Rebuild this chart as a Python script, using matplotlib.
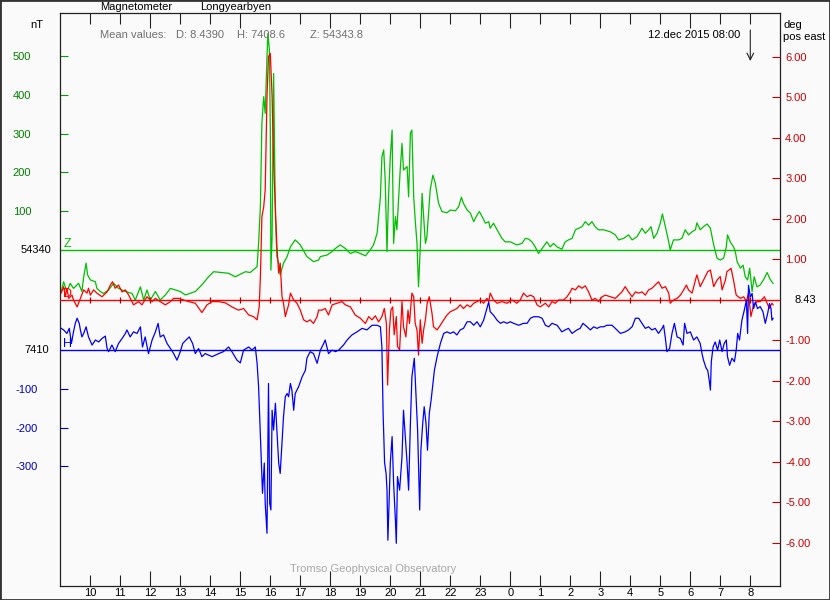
import matplotlib
matplotlib.use('Agg')
import matplotlib.pyplot as plt
from matplotlib.patches import Rectangle
from matplotlib.transforms import blended_transform_factory

plt.rcParams['font.family'] = ['Liberation Sans', 'DejaVu Sans']
plt.rcParams['font.size'] = 8

# time in hours from 09:00 (values past 24 are the next day)
t_z = [9.03, 9.11, 9.22, 9.33, 9.44, 9.61, 9.72, 9.78, 9.86, 9.91, 10.0, 10.17, 10.22, 10.33, 10.44,
       10.61, 10.78, 10.94, 11.17, 11.39, 11.5, 11.67, 11.78, 11.89, 12.0, 12.17, 12.33, 12.5, 12.67,
       13.0, 13.17, 13.5, 13.72, 13.94, 14.11, 14.61, 14.83, 15.17, 15.33, 15.56, 15.61, 15.67, 15.72,
       15.78, 15.83, 15.89, 15.92, 15.97, 16.0, 16.02, 16.06, 16.11, 16.17, 16.22, 16.28, 16.33, 16.44,
       16.56, 16.67, 16.83, 17.0, 17.22, 17.44, 17.61, 17.67, 17.89, 18.06, 18.17, 18.33, 18.5, 18.67,
       18.83, 19.0, 19.17, 19.33, 19.44, 19.56, 19.67, 19.72, 19.78, 19.83, 19.89, 19.94, 20.0, 20.06,
       20.11, 20.17, 20.22, 20.33, 20.39, 20.44, 20.56, 20.61, 20.67, 20.72, 20.78, 20.83, 20.89, 20.94,
       21.0, 21.06, 21.11, 21.17, 21.22, 21.33, 21.42, 21.5, 21.61, 21.72, 21.89, 22.0, 22.17, 22.28,
       22.37, 22.44, 22.56, 22.67, 22.78, 22.89, 22.97, 23.06, 23.17, 23.28, 23.33, 23.44, 23.56, 23.72,
       23.83, 24.0, 24.11, 24.22, 24.39, 24.5, 24.61, 24.72, 24.83, 24.94, 25.06, 25.22, 25.33, 25.44,
       25.56, 25.72, 25.83, 25.94, 26.06, 26.17, 26.28, 26.39, 26.5, 26.61, 26.72, 26.83, 26.94, 27.11,
       27.33, 27.5, 27.61, 27.78, 27.94, 28.06, 28.22, 28.39, 28.5, 28.61, 28.69, 28.78, 28.89, 29.0,
       29.07, 29.17, 29.28, 29.33, 29.44, 29.61, 29.72, 29.83, 29.94, 30.06, 30.17, 30.22, 30.33, 30.44,
       30.56, 30.67, 30.78, 30.89, 31.0, 31.11, 31.2, 31.24, 31.33, 31.44, 31.5, 31.56, 31.67, 31.76,
       31.83, 31.91, 31.98, 32.06, 32.13, 32.22, 32.33, 32.44, 32.56, 32.67, 32.76]
z_nt = [54232, 54258, 54233, 54254, 54241, 54254, 54233, 54271, 54306, 54276, 54263, 54258, 54241, 54233,
        54228, 54237, 54254, 54241, 54233, 54228, 54211, 54245, 54211, 54237, 54211, 54233, 54211, 54224,
        54241, 54233, 54224, 54233, 54250, 54271, 54284, 54280, 54271, 54284, 54282, 54297, 54358, 54452,
        54667, 54735, 54692, 54838, 54898, 54855, 54649, 54288, 54374, 54795, 54426, 54323, 54306, 54276,
        54306, 54323, 54348, 54366, 54353, 54323, 54310, 54314, 54323, 54327, 54336, 54344, 54353, 54344,
        54331, 54336, 54331, 54325, 54340, 54353, 54383, 54477, 54580, 54598, 54520, 54336, 54477, 54580,
        54649, 54357, 54426, 54392, 54546, 54615, 54546, 54555, 54477, 54641, 54649, 54477, 54417, 54357,
        54245, 54348, 54486, 54426, 54357, 54374, 54495, 54533, 54512, 54460, 54439, 54436, 54443, 54441,
        54452, 54476, 54460, 54443, 54435, 54413, 54430, 54439, 54426, 54409, 54413, 54396, 54409, 54392,
        54370, 54361, 54361, 54357, 54353, 54357, 54370, 54368, 54361, 54348, 54331, 54344, 54361, 54348,
        54357, 54348, 54342, 54361, 54366, 54370, 54392, 54396, 54400, 54413, 54404, 54413, 54400, 54392,
        54392, 54387, 54379, 54366, 54370, 54379, 54366, 54374, 54396, 54383, 54392, 54400, 54370, 54383,
        54409, 54433, 54400, 54361, 54340, 54366, 54366, 54370, 54392, 54379, 54387, 54392, 54410, 54392,
        54400, 54407, 54396, 54353, 54319, 54314, 54319, 54348, 54379, 54361, 54348, 54336, 54310, 54293,
        54301, 54271, 54263, 54293, 54233, 54271, 54245, 54250, 54263, 54282, 54263, 54254]

t_d = [9.03, 9.11, 9.17, 9.22, 9.28, 9.39, 9.44, 9.56, 9.67, 9.78, 9.89, 9.94, 10.0, 10.11, 10.22, 10.39,
       10.56, 10.67, 10.74, 10.83, 10.94, 11.06, 11.17, 11.28, 11.44, 11.61, 11.72, 11.89, 12.06, 12.17,
       12.33, 12.5, 12.67, 12.78, 12.94, 13.11, 13.28, 13.5, 13.72, 13.89, 14.06, 14.28, 14.5, 14.72,
       14.94, 15.11, 15.28, 15.44, 15.56, 15.63, 15.67, 15.72, 15.78, 15.83, 15.89, 15.94, 16.0, 16.06,
       16.11, 16.17, 16.22, 16.28, 16.33, 16.39, 16.44, 16.5, 16.56, 16.61, 16.67, 16.78, 16.89, 17.0,
       17.11, 17.22, 17.33, 17.44, 17.56, 17.61, 17.72, 17.83, 17.94, 18.06, 18.22, 18.39, 18.5, 18.67,
       18.83, 19.0, 19.17, 19.28, 19.39, 19.5, 19.61, 19.72, 19.8, 19.87, 19.91, 19.97, 20.02, 20.08,
       20.13, 20.2, 20.24, 20.31, 20.39, 20.44, 20.52, 20.59, 20.64, 20.72, 20.78, 20.83, 20.89, 20.94,
       21.0, 21.06, 21.11, 21.17, 21.23, 21.3, 21.39, 21.44, 21.56, 21.67, 21.78, 21.89, 22.0, 22.11,
       22.22, 22.33, 22.44, 22.56, 22.67, 22.78, 22.89, 23.0, 23.11, 23.22, 23.28, 23.33, 23.44, 23.56,
       23.72, 23.89, 24.06, 24.22, 24.33, 24.44, 24.56, 24.67, 24.78, 24.89, 25.0, 25.17, 25.28, 25.39,
       25.5, 25.61, 25.78, 25.89, 26.0, 26.06, 26.17, 26.28, 26.39, 26.5, 26.61, 26.72, 26.83, 26.94,
       27.06, 27.17, 27.33, 27.5, 27.61, 27.72, 27.83, 27.94, 28.06, 28.17, 28.28, 28.39, 28.5, 28.61,
       28.72, 28.83, 28.94, 29.06, 29.17, 29.28, 29.33, 29.44, 29.56, 29.67, 29.78, 29.87, 29.94, 30.06,
       30.17, 30.22, 30.33, 30.44, 30.58, 30.67, 30.78, 30.89, 31.0, 31.06, 31.17, 31.22, 31.36, 31.44,
       31.53, 31.67, 31.78, 31.87, 31.94, 32.02, 32.11, 32.22, 32.33, 32.47, 32.56, 32.64, 32.72, 32.76]
d_deg = [8.60, 8.76, 8.51, 8.72, 8.47, 8.55, 8.43, 8.26, 8.47, 8.68, 8.60, 8.72, 8.55, 8.68, 8.60, 8.51,
         8.63, 8.80, 8.88, 8.72, 8.80, 8.63, 8.68, 8.55, 8.31, 8.39, 8.31, 8.51, 8.39, 8.47,
         8.39, 8.31, 8.39, 8.47, 8.47, 8.43, 8.39, 8.35, 8.12, 8.31, 8.39, 8.39, 8.36, 8.26,
         8.18, 8.22, 8.06, 8.02, 7.94, 8.26, 9.00, 10.49, 10.73, 11.15, 13.45, 14.44, 14.52, 13.45,
         11.81, 10.65, 9.75, 9.09, 9.34, 8.51, 8.35, 8.02, 8.18, 8.31, 8.60, 8.43, 8.35, 8.18,
         7.94, 7.89, 7.94, 7.85, 8.02, 8.18, 8.18, 8.22, 8.06, 8.31, 8.35, 8.39, 8.31, 8.26,
         8.06, 7.98, 7.85, 8.02, 7.94, 8.04, 7.89, 8.02, 8.22, 7.85, 6.33, 7.69, 8.18, 8.26,
         7.57, 8.02, 7.28, 7.20, 8.39, 7.77, 7.52, 8.18, 7.85, 8.60, 8.51, 7.85, 7.69, 7.07,
         7.94, 7.36, 7.69, 7.94, 8.35, 8.51, 8.10, 7.77, 7.69, 7.81, 7.94, 8.06, 8.14, 8.18,
         8.22, 8.31, 8.22, 8.31, 8.26, 8.35, 8.39, 8.43, 8.35, 8.47, 8.39, 8.60, 8.43, 8.35,
         8.39, 8.35, 8.43, 8.35, 8.43, 8.60, 8.51, 8.55, 8.51, 8.31, 8.26, 8.35, 8.26, 8.39,
         8.35, 8.43, 8.43, 8.51, 8.63, 8.72, 8.68, 8.78, 8.72, 8.78, 8.63, 8.43, 8.47, 8.39,
         8.51, 8.55, 8.51, 8.47, 8.55, 8.63, 8.76, 8.63, 8.51, 8.63, 8.60, 8.63, 8.55, 8.68,
         8.72, 8.80, 8.88, 8.72, 8.76, 8.60, 8.35, 8.43, 8.47, 8.55, 8.68, 8.80, 8.68, 8.60,
         8.92, 9.05, 8.76, 8.92, 9.13, 9.17, 8.76, 8.92, 9.01, 8.68, 8.92, 9.13, 9.21, 8.92,
         8.55, 8.47, 8.51, 8.39, 8.60, 8.02, 8.31, 8.39, 8.39, 8.51, 8.35, 8.22, 8.35, 8.31]

t_h = [9.03, 9.11, 9.22, 9.3, 9.37, 9.44, 9.5, 9.56, 9.63, 9.67, 9.72, 9.78, 9.86, 9.94, 10.06, 10.17,
       10.28, 10.39, 10.5, 10.56, 10.61, 10.72, 10.83, 10.94, 11.06, 11.17, 11.22, 11.33, 11.44, 11.56,
       11.67, 11.74, 11.83, 11.94, 12.06, 12.17, 12.26, 12.33, 12.44, 12.56, 12.67, 12.78, 12.89, 13.0,
       13.08, 13.19, 13.3, 13.41, 13.5, 13.61, 13.72, 13.83, 14.06, 14.28, 14.44, 14.61, 14.72, 14.89,
       15.0, 15.11, 15.28, 15.39, 15.5, 15.56, 15.61, 15.67, 15.72, 15.74, 15.8, 15.83, 15.87, 15.89,
       15.94, 15.98, 16.02, 16.06, 16.11, 16.17, 16.22, 16.28, 16.33, 16.39, 16.44, 16.5, 16.56, 16.61,
       16.67, 16.72, 16.78, 16.83, 16.94, 17.06, 17.17, 17.22, 17.33, 17.44, 17.56, 17.67, 17.78, 17.83,
       17.94, 18.06, 18.17, 18.28, 18.44, 18.56, 18.72, 18.89, 19.06, 19.22, 19.39, 19.56, 19.67, 19.72,
       19.76, 19.81, 19.86, 19.89, 19.92, 20.0, 20.06, 20.11, 20.17, 20.2, 20.24, 20.31, 20.39, 20.44,
       20.5, 20.56, 20.61, 20.67, 20.72, 20.8, 20.86, 20.91, 20.98, 21.02, 21.08, 21.13, 21.19, 21.24,
       21.3, 21.36, 21.41, 21.47, 21.56, 21.67, 21.78, 21.89, 22.0, 22.11, 22.22, 22.33, 22.44, 22.56,
       22.67, 22.78, 22.89, 23.0, 23.11, 23.22, 23.28, 23.33, 23.44, 23.56, 23.67, 23.78, 23.89, 24.0,
       24.11, 24.28, 24.44, 24.56, 24.67, 24.78, 24.94, 25.06, 25.17, 25.28, 25.39, 25.56, 25.72, 25.83,
       25.94, 26.06, 26.22, 26.33, 26.42, 26.56, 26.67, 26.78, 26.89, 27.0, 27.11, 27.22, 27.39, 27.5,
       27.67, 27.83, 27.94, 28.06, 28.17, 28.28, 28.39, 28.5, 28.61, 28.72, 28.83, 28.94, 29.06, 29.11,
       29.17, 29.22, 29.31, 29.39, 29.47, 29.56, 29.67, 29.76, 29.81, 29.89, 30.0, 30.11, 30.22, 30.33,
       30.39, 30.44, 30.53, 30.58, 30.63, 30.67, 30.7, 30.76, 30.83, 30.91, 30.98, 31.06, 31.13, 31.2,
       31.24, 31.31, 31.39, 31.47, 31.53, 31.58, 31.64, 31.72, 31.8, 31.87, 31.91, 31.94, 32.0, 32.06,
       32.11, 32.17, 32.24, 32.33, 32.42, 32.5, 32.58, 32.64, 32.69, 32.72, 32.76]
h_nt = [7466, 7462, 7453, 7466, 7427, 7457, 7479, 7492, 7479, 7462, 7444, 7453, 7470, 7444, 7423, 7436,
        7431, 7440, 7446, 7414, 7406, 7423, 7406, 7427, 7440, 7453, 7462, 7444, 7457, 7453,
        7470, 7418, 7444, 7401, 7436, 7457, 7479, 7444, 7449, 7427, 7414, 7401, 7384, 7406,
        7427, 7436, 7444, 7427, 7401, 7414, 7393, 7401, 7393, 7401, 7406, 7418, 7406, 7384,
        7377, 7410, 7418, 7410, 7418, 7376, 7315, 7187, 7084, 7041, 7119, 7015, 6963, 6938,
        7324, 7015, 6998, 7255, 7204, 7273, 7204, 7119, 7092, 7170, 7238, 7290, 7298, 7290,
        7324, 7307, 7255, 7298, 7315, 7341, 7358, 7389, 7406, 7401, 7376, 7410, 7427, 7436,
        7401, 7410, 7406, 7410, 7423, 7436, 7449, 7457, 7466, 7462, 7474, 7474, 7470, 7418,
        7247, 7119, 7092, 7049, 6920, 7119, 7187, 7067, 6972, 6912, 7084, 7049, 7135, 7255,
        7187, 7119, 7049, 7221, 7341, 7389, 7290, 7204, 6998, 7152, 7221, 7264, 7221, 7152,
        7247, 7281, 7315, 7358, 7393, 7427, 7453, 7457, 7453, 7457, 7449, 7462, 7466, 7483,
        7483, 7474, 7483, 7470, 7487, 7517, 7534, 7509, 7500, 7487, 7479, 7483, 7479, 7483,
        7479, 7474, 7479, 7479, 7492, 7496, 7496, 7492, 7474, 7470, 7479, 7474, 7457, 7462,
        7466, 7453, 7462, 7466, 7479, 7470, 7462, 7470, 7466, 7470, 7470, 7474, 7474, 7466,
        7453, 7457, 7462, 7470, 7492, 7492, 7479, 7466, 7470, 7462, 7466, 7453, 7466, 7474,
        7440, 7406, 7414, 7453, 7479, 7444, 7440, 7423, 7479, 7453, 7457, 7436, 7444, 7427,
        7401, 7384, 7363, 7358, 7333, 7307, 7380, 7418, 7431, 7410, 7436, 7406, 7427, 7436,
        7393, 7371, 7389, 7380, 7410, 7453, 7436, 7487, 7513, 7539, 7453, 7577, 7547, 7556,
        7517, 7534, 7517, 7522, 7509, 7479, 7505, 7530, 7517, 7487, 7492]

z_base = 54340
h_base = 7410
d_base = 8.43
z_ticks = [100, 200, 300, 400, 500]
h_ticks = [-100, -200, -300]
d_ticks = [6, 5, 4, 3, 2, 1, -1, -2, -3, -4, -5, -6]
hours = list(range(10, 33))

BG = '#fafafa'
W, H = 830, 600
GREEN, RED, BLUE = '#00c000', '#ff0000', '#0000ff'


def px(x, y):
    return x / W, 1 - y / H


fig = plt.figure(figsize=(8.3, 6.0), dpi=100, facecolor=BG)
x0, x1, y0, y1 = 60.3, 780.3, 13.3, 586
ax = fig.add_axes([x0 / W, 1 - y1 / H, (x1 - x0) / W, (y1 - y0) / H])
ax.set_facecolor(BG)
axd = ax.twinx()
axh = ax.twinx()

ax.set_xlim(9, 33)
ax.set_ylim(53474, 54950)
axh.set_ylim(6802, 8278)
axd.set_ylim(1.368, 15.509)

# Z
ax.axhline(z_base, color=GREEN, lw=1)
ax.plot(t_z, z_nt, color=GREEN, lw=0.9)
# D
axd.axhline(d_base, color=RED, lw=1)
axd.plot(hours, [d_base] * len(hours), ls='none', marker='|', ms=4, mew=0.9, color='#a00000')
axd.plot(t_d, d_deg, color=RED, lw=0.9)
# H
axh.axhline(h_base, color=BLUE, lw=1)
axh.plot(t_h, h_nt, color=BLUE, lw=0.9)

# x axis: hour ticks, longer every 3 hours
major = [h for h in hours if h % 3 == 0]
minor = [h for h in hours if h % 3 != 0]
ax.set_xticks(major, labels=[str(h % 24) for h in major])
ax.set_xticks(minor, labels=[str(h % 24) for h in minor], minor=True)
ax.tick_params(axis='x', which='both', direction='in', top=True, bottom=True,
               color='#222222', width=0.8, pad=1.5, labelsize=8)
ax.tick_params(axis='x', which='major', length=11)
ax.tick_params(axis='x', which='minor', length=8)

for s in ax.spines.values():
    s.set_color('#222222')
    s.set_linewidth(0.9)
for a in (axd, axh):
    for s in a.spines.values():
        s.set_visible(False)

ax.set_yticks([z_base + v for v in z_ticks], labels=[str(v) for v in z_ticks])
ax.tick_params(axis='y', left=True, right=False, direction='in', length=6, width=0.8,
               color='#00a000', labelcolor='#008000', pad=21, labelsize=8)

axh.yaxis.tick_left()
axh.set_yticks([h_base + v for v in h_ticks], labels=[str(v) for v in h_ticks])
axh.tick_params(axis='y', direction='in', length=6, width=0.8,
                color='#0000c0', labelcolor='#0000c0', pad=16, labelsize=8)

axd.set_yticks([d_base + v for v in d_ticks], labels=['%.2f' % v for v in d_ticks])
axd.tick_params(axis='y', direction='in', length=6, width=0.8,
                color='#cc0000', labelcolor='#cc0000', pad=3.5, labelsize=8)

# baseline values and component letters
tz = blended_transform_factory(ax.transAxes, ax.transData)
th = blended_transform_factory(axh.transAxes, axh.transData)
td = blended_transform_factory(axd.transAxes, axd.transData)
ax.text((51 - x0) / (x1 - x0), z_base, '54340', transform=tz, ha='right', va='center')
axh.text((49 - x0) / (x1 - x0), h_base, '7410', transform=th, ha='right', va='center')
axd.text((794 - x0) / (x1 - x0), d_base, '8.43', transform=td, ha='left', va='center')
ax.text(9.1, z_base, 'Z', color=GREEN, ha='left', va='bottom', fontsize=9)
axh.text(9.1, h_base, 'H', color=BLUE, ha='left', va='bottom', fontsize=9)
axd.text(9.1, d_base, 'D', color=RED, ha='left', va='bottom', fontsize=9)

# header texts
fig.text(*px(100, 7.5), 'Magnetometer', va='center')
fig.text(*px(200, 7.5), 'Longyearbyen', va='center')
fig.text(*px(30, 25), 'nT', va='center')
gray = '#707070'
fig.text(*px(100, 35), 'Mean values:', va='center', color=gray)
fig.text(*px(176, 35), 'D: 8.4390', va='center', color=gray)
fig.text(*px(237, 35), 'H: 7408.6', va='center', color=gray)
fig.text(*px(310, 35), 'Z: 54343.8', va='center', color=gray)
fig.text(*px(648, 34.5), '12.dec 2015 08:00', va='center')
fig.text(*px(783, 25), 'deg', va='center')
fig.text(*px(783, 37.5), 'pos east', va='center')
fig.text(*px(290, 569), 'Tromso Geophysical Observatory', va='center', color='#a8a8a8')

ax.annotate('', xy=(32, (y1 - 61) / (y1 - y0)), xytext=(32, (y1 - 30) / (y1 - y0)),
            xycoords=('data', 'axes fraction'), textcoords=('data', 'axes fraction'),
            arrowprops=dict(arrowstyle='->', color='#222222', lw=0.8,
                            shrinkA=0, shrinkB=0, mutation_scale=12))

fig.add_artist(Rectangle((0, 0), 1, 1, transform=fig.transFigure, fill=False,
                         edgecolor='#333333', lw=2))

fig.savefig('out.png', dpi=100, facecolor=BG)
